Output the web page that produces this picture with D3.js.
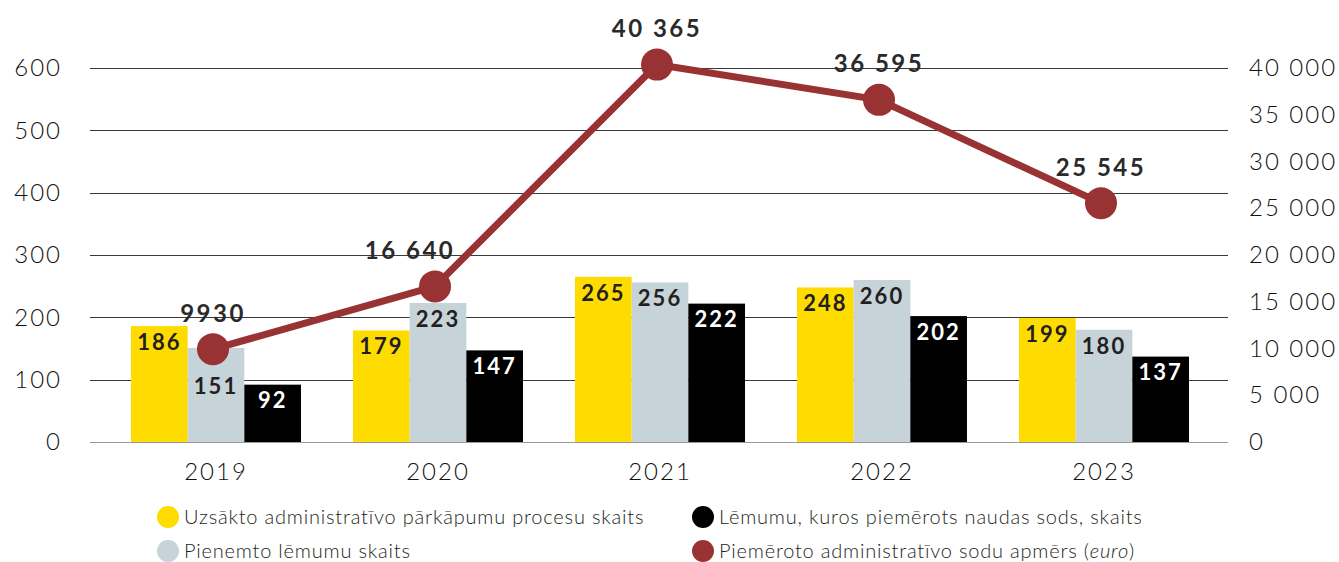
<!DOCTYPE html>
<html>
<head>
<meta charset="utf-8">
<script src="https://cdn.jsdelivr.net/npm/d3@7"></script>
<style>
  body { margin: 0; background: #fff; }
  svg { display: block; font-family: Lato, sans-serif; }
</style>
</head>
<body>
<div id="chart"></div>
<script>
// data
var years = ["2019", "2020", "2021", "2022", "2023"];
var uzsakto = [186, 179, 265, 248, 199];      // yellow
var pienemto = [151, 223, 256, 260, 180];     // gray
var naudasSods = [92, 147, 222, 202, 137];    // black
var sodiEuro = [9930, 16640, 40365, 36595, 25545]; // red line, right axis
var leftTicks = [0, 100, 200, 300, 400, 500, 600];
var rightTicks = [0, 5000, 10000, 15000, 20000, 25000, 30000, 35000, 40000];

var seriesNames = ["uzsakto", "pienemto", "naudasSods"];
var seriesColors = {uzsakto: "#ffdc00", pienemto: "#c6d3d9", naudasSods: "#000000"};
var labelColors = {uzsakto: "#231f20", pienemto: "#231f20", naudasSods: "#ffffff"};
var lineColor = "#993232";

var width = 1339, height = 562;

var svg = d3.select("#chart")
  .append("svg")
    .attr("width", width)
    .attr("height", height);

// scales
var x0 = d3.scaleBand()
    .domain(years)
    .range([105, 1215]);

var x1 = d3.scaleBand()
    .domain(seriesNames)
    .range([26, x0.bandwidth() - 26]);

var y = d3.scaleLinear()
    .domain([0, 600])
    .range([442, 68]);

var y2 = d3.scaleLinear()
    .domain([0, 40000])
    .range([442, 68]);

function spaced(v) {
  return d3.format(",")(v).replace(/,/g, " ");
}
function spacedLabel(v) { // 4 digit numbers are written without space
  return v >= 10000 ? spaced(v) : String(v);
}

// gridlines
svg.append("g")
  .selectAll("line")
  .data(leftTicks)
  .enter()
  .append("line")
    .attr("x1", 90)
    .attr("x2", 1228)
    .attr("y1", function(d) { return Math.round(y(d)) + 0.5; })
    .attr("y2", function(d) { return Math.round(y(d)) + 0.5; })
    .attr("stroke", function(d) { return d === 0 ? "#999" : "#3a3a3a"; })
    .attr("stroke-width", 1.2);

function styleAxisText(sel) {
  sel.attr("font-family", "Lato, sans-serif")
     .attr("font-weight", 300)
     .attr("font-size", 24)
     .attr("letter-spacing", 2)
     .attr("fill", "#111");
}

// left axis
var leftAxis = svg.append("g")
    .attr("transform", "translate(62,0)")
    .call(d3.axisLeft(y).tickValues(leftTicks).tickSize(0).tickPadding(0));
leftAxis.select(".domain").remove();
leftAxis.selectAll("text").call(styleAxisText);

// right axis
var rightAxis = svg.append("g")
    .attr("transform", "translate(1249,0)")
    .call(d3.axisRight(y2).tickValues(rightTicks).tickFormat(spaced).tickSize(0).tickPadding(0));
rightAxis.select(".domain").remove();
rightAxis.selectAll("text").call(styleAxisText);

// year labels
svg.append("g")
  .selectAll("text")
  .data(years)
  .enter()
  .append("text")
    .attr("x", function(d) { return x0(d) + x0.bandwidth() / 2; })
    .attr("y", 472)
    .attr("dy", "0.35em")
    .attr("text-anchor", "middle")
    .text(function(d) { return d; })
    .call(styleAxisText);

// bars
var values = {uzsakto: uzsakto, pienemto: pienemto, naudasSods: naudasSods};
var barData = [];
years.forEach(function(yr, i) {
  seriesNames.forEach(function(s) {
    barData.push({year: yr, idx: i, key: s, value: values[s][i]});
  });
});

var groups = svg.append("g");
groups.selectAll("rect")
  .data(barData)
  .enter()
  .append("rect")
    .attr("x", function(d) { return x0(d.year) + x1(d.key); })
    .attr("y", function(d) { return y(d.value); })
    .attr("width", x1.bandwidth())
    .attr("height", function(d) { return y(0) - y(d.value); })
    .style("fill", function(d) { return seriesColors[d.key]; });

// line
function lineX(i) { return x0(years[i]) + x0.bandwidth() / 2 - 3; }
var line = d3.line()
    .x(function(d, i) { return lineX(i); })
    .y(function(d) { return y2(d); });

// bar value labels (pushed below the marker when they would collide)
groups.selectAll("text")
  .data(barData)
  .enter()
  .append("text")
    .attr("x", function(d) { return x0(d.year) + x1(d.key) + x1.bandwidth() / 2; })
    .attr("y", function(d) {
      var ly = y(d.value) + 16;
      var dx = x0(d.year) + x1(d.key) + x1.bandwidth() / 2 - lineX(d.idx);
      var dy = ly - y2(sodiEuro[d.idx]);
      if (Math.abs(dx) < 30 && Math.abs(dy) < 26) ly = y2(sodiEuro[d.idx]) + 37;
      return ly;
    })
    .attr("dy", "0.35em")
    .attr("text-anchor", "middle")
    .attr("font-weight", 700)
    .attr("font-size", 22)
    .attr("letter-spacing", 2)
    .attr("fill", function(d) { return labelColors[d.key]; })
    .text(function(d) { return d.value; });

svg.append("path")
    .datum(sodiEuro)
    .attr("d", line)
    .attr("fill", "none")
    .attr("stroke", lineColor)
    .attr("stroke-width", 7);

svg.append("g")
  .selectAll("circle")
  .data(sodiEuro)
  .enter()
  .append("circle")
    .attr("cx", function(d, i) { return lineX(i); })
    .attr("cy", function(d) { return y2(d); })
    .attr("r", 16)
    .attr("fill", lineColor);

// shift a value label left when the following segment climbs through it
function labelShift(i) {
  if (i >= sodiEuro.length - 1) return 0;
  var s = (y2(sodiEuro[i + 1]) - y2(sodiEuro[i])) / (lineX(i + 1) - lineX(i));
  if (s >= 0) return 0;
  var xoff = 25 / -s;
  return Math.min(0, xoff - 50);
}

svg.append("g")
  .selectAll("text")
  .data(sodiEuro)
  .enter()
  .append("text")
    .attr("x", function(d, i) { return lineX(i) + labelShift(i); })
    .attr("y", function(d) { return y2(d) - 36; })
    .attr("dy", "0.35em")
    .attr("text-anchor", "middle")
    .attr("font-weight", 700)
    .attr("font-size", 24)
    .attr("letter-spacing", 2.5)
    .attr("fill", "#2a2a2a")
    .text(function(d) { return spacedLabel(d); });

// legend
var legendItems = [
  {color: seriesColors.uzsakto, text: "Uzsākto administratīvo pārkāpumu procesu skaits", x: 168, y: 517},
  {color: seriesColors.pienemto, text: "Pienemto lēmumu skaits", x: 168, y: 551},
  {color: seriesColors.naudasSods, text: "Lēmumu, kuros piemērots naudas sods, skaits", x: 703, y: 517},
  {color: lineColor, text: "Piemēroto administratīvo sodu apmērs (", italic: "euro", after: ")", x: 703, y: 551}
];

var legend = svg.append("g")
  .selectAll("g")
  .data(legendItems)
  .enter()
  .append("g")
    .attr("transform", function(d) { return "translate(" + d.x + "," + d.y + ")"; });

legend.append("circle")
    .attr("r", 11)
    .attr("fill", function(d) { return d.color; });

var ltext = legend.append("text")
    .attr("x", 16)
    .attr("dy", "0.35em")
    .attr("font-weight", 300)
    .attr("font-size", 20)
    .attr("letter-spacing", 0.8)
    .attr("fill", "#231f20");
ltext.append("tspan").text(function(d) { return d.text; });
ltext.filter(function(d) { return d.italic; })
  .append("tspan").attr("font-style", "italic").text(function(d) { return d.italic; });
ltext.filter(function(d) { return d.after; })
  .append("tspan").text(function(d) { return d.after; });
</script>
</body>
</html>
